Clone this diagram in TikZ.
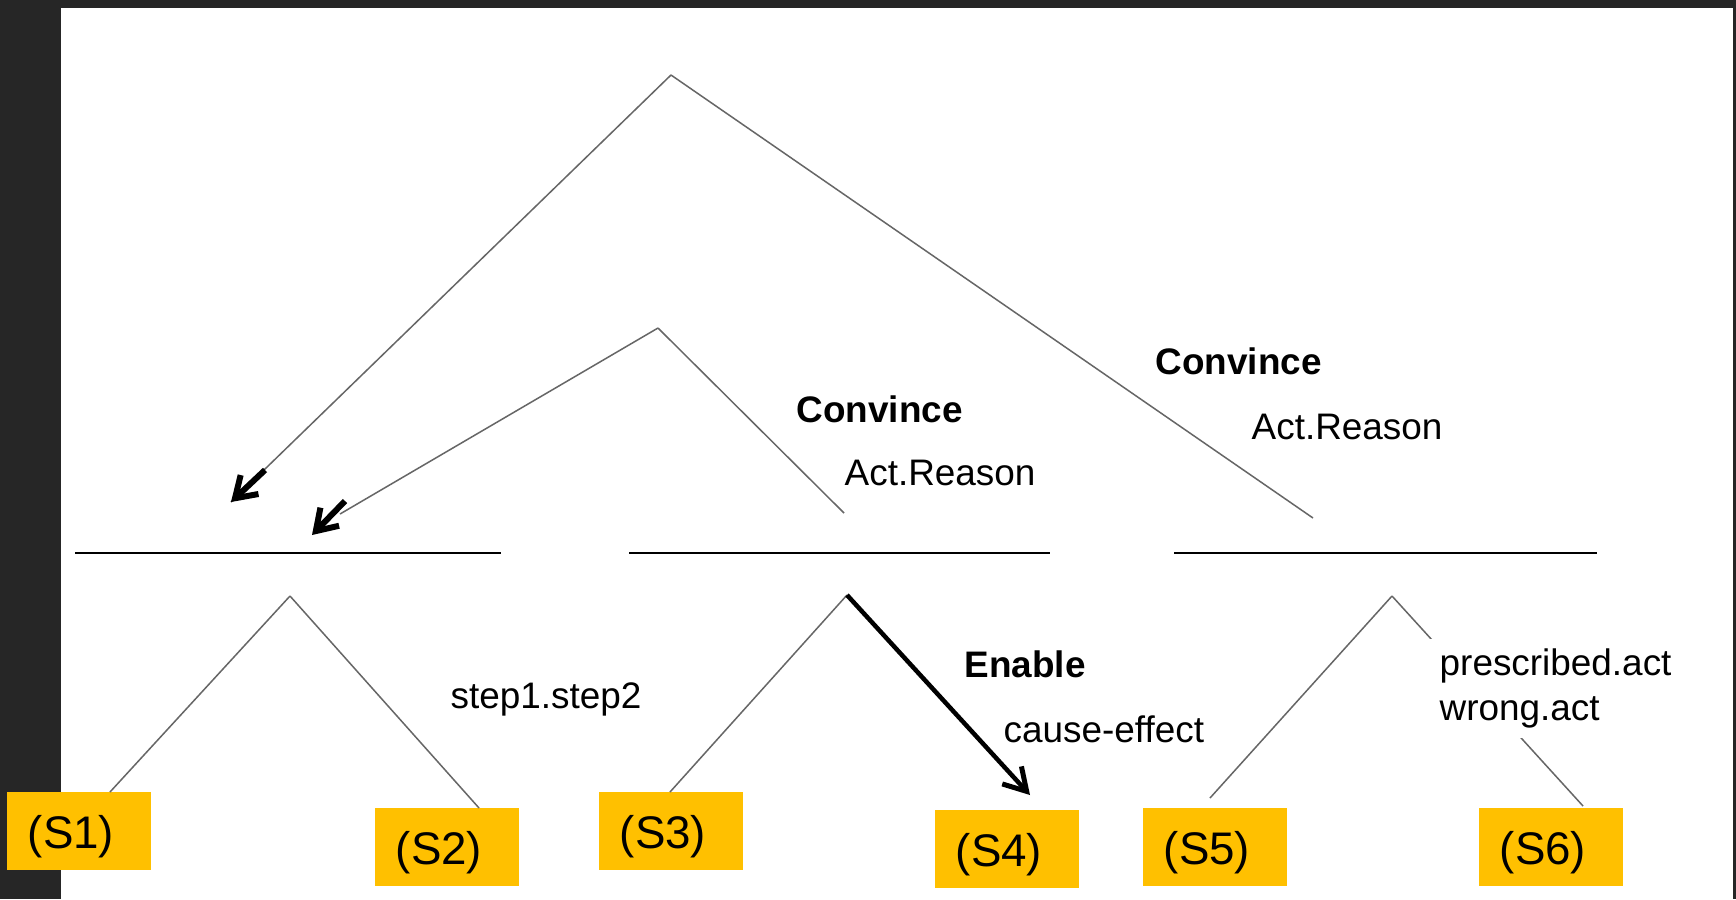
\documentclass[tikz,border=0pt]{standalone}
\usepackage{fontspec}
\setmainfont{Liberation Sans}
\usetikzlibrary{arrows.meta,shapes}
\usetikzlibrary{calc}
\definecolor{slidebg}{HTML}{262626}
\definecolor{boxgold}{HTML}{FFC000}
\tikzstyle{sbox}=[rectangle,fill=boxgold,minimum width=14.4mm,minimum height=7.8mm,inner sep=0pt,text height=4.2mm,text depth=0.8mm,font=\fontsize{13}{15}\selectfont]
\tikzstyle{branch}=[line width=0.15mm,black!60]
\tikzstyle{bar}=[line width=0.28mm,black]
\tikzstyle{barb}=[line width=0.45mm,black,-{Straight Barb[length=2.2mm,width=2.6mm,line width=0.5mm]}]
\tikzstyle{shortbarb}=[line width=0.6mm,black,-{Straight Barb[length=2mm,width=2.6mm,line width=0.6mm]}]
\tikzstyle{relname}=[anchor=base west,inner sep=0pt,font=\fontsize{10.5}{12.8}\selectfont\bfseries]
\tikzstyle{reltext}=[anchor=base west,inner sep=0pt,font=\fontsize{10.5}{12.8}\selectfont]

\begin{document}
\begin{tikzpicture}[x=0.1mm,y=-0.1mm]
    \useasboundingbox (0,0) rectangle (1736,899);
    \fill[slidebg] (0,0) rectangle (1736,899);
    \fill[white] (61,8) rectangle (1733,899);

    % tree tops and loose ends
    \coordinate (top) at (671,75);
    \coordinate (mid) at (658,328);
    \coordinate (lowa) at (290,596);
    \coordinate (lowb) at (847,595);
    \coordinate (lowc) at (1392,596);
    \coordinate (topend) at (1313,518);
    \coordinate (midend) at (844,513);
    \coordinate (tipa) at (231,502);
    \coordinate (tipb) at (312,535);
    \coordinate (grayb) at (340,514);
    \coordinate (barba) at (265,470);
    \coordinate (barbb) at (345,501);
    \coordinate (S1in) at (110,792);
    \coordinate (S2in) at (479,808);
    \coordinate (S3in) at (670,792);
    \coordinate (S4in) at (1030,795);
    \coordinate (S5in) at (1210,798);
    \coordinate (S6in) at (1583,806);

    \foreach \pos/\name in {{(79,831)/S1}, {(447,847)/S2}, {(671,831)/S3}, {(1007,849)/S4}, {(1215,847)/S5}, {(1551,847)/S6}}
        \node[sbox] (\name) at \pos {\hspace*{-1.6mm}(\name)};

    \draw[bar] (75,553) -- (501,553);
    \draw[bar] (629,553) -- (1050,553);
    \draw[bar] (1174,553) -- (1597,553);

             \draw[branch] (top) -- (tipa);
             \draw[branch] (top) -- (topend);
             \draw[branch] (mid) -- (grayb);
             \draw[branch] (mid) -- (midend);
             \draw[shortbarb] (barba) -- (tipa);
             \draw[shortbarb] (barbb) -- (tipb);

             \draw[branch] (lowa) -- (S1in);
             \draw[branch] (lowa) -- (S2in);
             \draw[branch] (lowb) -- (S3in);
             \draw[barb] (lowb) -- (S4in);
             \draw[branch] (lowc) -- (S5in);
             \draw[branch] (lowc) -- (S6in);

    \node[relname] (conva) at (796,422) {Convince};
    \node[reltext] (reasa) at (844,485) {Act.Reason};
    \node[relname] (convb) at (1155,374) {Convince};
    \node[reltext] (reasb) at (1251,439) {Act.Reason};
    \node[relname] (enab) at (964,677) {Enable};
    \node[reltext] (cause) at (1003,742) {cause-effect};
    \node[reltext] (steps) at (450,708) {step1.step2};
    \node[reltext, anchor=north west, align=left, fill=white, inner sep=1mm] (acts) at (1429,638) {prescribed.act\\wrong.act};
   \end{tikzpicture}
\end{document}
